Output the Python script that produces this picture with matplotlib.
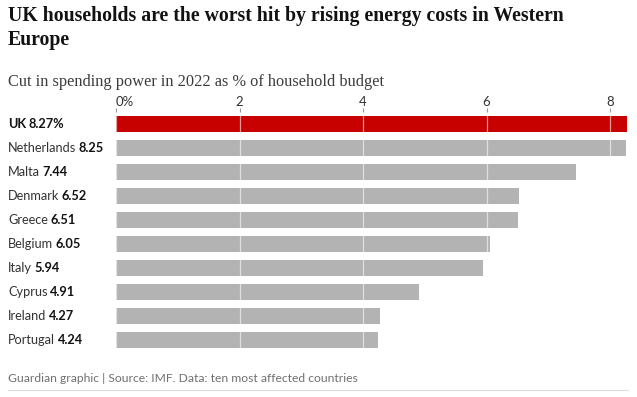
import matplotlib
matplotlib.use("Agg")
import matplotlib.pyplot as plt
import matplotlib.transforms as mtransforms

countries = ["UK", "Netherlands", "Malta", "Denmark", "Greece",
             "Belgium", "Italy", "Cyprus", "Ireland", "Portugal"]
values = [8.27, 8.25, 7.44, 6.52, 6.51, 6.05, 5.94, 4.91, 4.27, 4.24]
value_labels = ["8.27%", "8.25", "7.44", "6.52", "6.51",
                "6.05", "5.94", "4.91", "4.27", "4.24"]
xticks = [0, 2, 4, 6, 8]
xtick_labels = ["0%", "2", "4", "6", "8"]

W, H = 637, 397
fig = plt.figure(figsize=(W / 100, H / 100), dpi=100)
SANS = "Lato"


def fx(px):
    return px / W


def fy(py):
    return 1 - py / H


# axes in pixel terms: x 116..628, y 112..352
ax = fig.add_axes([fx(116), fy(352), fx(628) - fx(116), fy(112) - fy(352)])

colors = ["#c70000"] + ["#b3b3b3"] * (len(values) - 1)
ax.barh(range(len(values)), values, height=0.667, color=colors, zorder=1)
ax.set_ylim(len(values) - 0.5, -0.5)
ax.set_xlim(0, 8.29)

ax.xaxis.tick_top()
ax.set_xticks(xticks)
ax.set_xticklabels(xtick_labels, fontsize=9.5, color="#333333", family=SANS)
ax.get_xticklabels()[0].set_horizontalalignment("left")
ax.tick_params(axis="x", length=3, width=0.8, color="#999999", pad=0)
ax.set_yticks([])
ax.grid(axis="x", color="white", alpha=0.6, linewidth=0.9, zorder=3)
ax.set_axisbelow(False)
for s in ax.spines.values():
    s.set_visible(False)

# row labels: name + bold value
trans = mtransforms.blended_transform_factory(fig.transFigure, ax.transData)
renderer = fig.canvas.get_renderer()
for i, (name, val) in enumerate(zip(countries, value_labels)):
    if i == 0:
        t = fig.text(fx(8), i, name, transform=trans, va="center", ha="left",
                     fontsize=9.2, fontweight="bold", color="#121212", family=SANS)
    else:
        t = fig.text(fx(8), i, name, transform=trans, va="center", ha="left",
                     fontsize=9.2, color="#333333", family=SANS)
    bb = t.get_window_extent(renderer)
    fig.text(fx(bb.x1 + 2.5), i, val, transform=trans, va="center", ha="left",
             fontsize=9.2, fontweight="bold", color="#121212", family=SANS)

fig.text(fx(8), fy(6), "UK households are the worst hit by rising energy costs in Western\nEurope",
         ha="left", va="top", fontsize=14.2, fontweight="bold", color="#121212",
         family="Liberation Serif", linespacing=1.3)
fig.text(fx(8), fy(82), "Cut in spending power in 2022 as % of household budget",
         ha="left", va="center", fontsize=11.8, color="#3c3c3c", family="Liberation Serif")
fig.text(fx(8), fy(379), "Guardian graphic | Source: IMF. Data: ten most affected countries",
         ha="left", va="center", fontsize=8.7, color="#707070", family=SANS)
fig.add_artist(plt.Line2D([fx(8), fx(628)], [fy(390), fy(390)], color="#dcdcdc",
                          linewidth=0.8, transform=fig.transFigure))

fig.savefig("out.png", dpi=100)
